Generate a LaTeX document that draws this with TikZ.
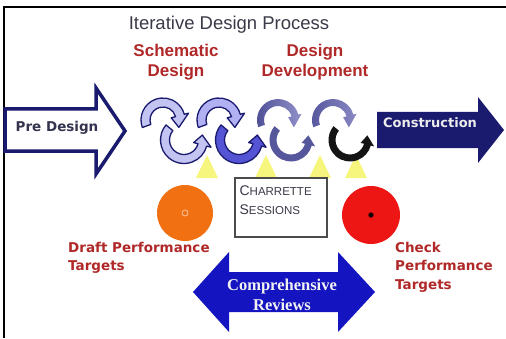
\documentclass[tikz,border=0pt]{standalone}
\usepackage{fontspec}
\setmainfont{Liberation Sans}
\newfontfamily\dejavu{DejaVu Sans}
\newfontfamily\timesb{Liberation Serif}
\usetikzlibrary{positioning}
\usetikzlibrary{calc}
\definecolor{dkblue}{HTML}{1A1A6E}
\definecolor{revblue}{HTML}{1414C0}
\definecolor{headred}{HTML}{B02828}
\definecolor{titlegray}{HTML}{3A3A48}
\definecolor{lav}{HTML}{C4C4F2}
\definecolor{midblue}{HTML}{5454D4}
\definecolor{paleyel}{HTML}{F6F67E}
\definecolor{draftorg}{HTML}{F07012}
\definecolor{checkred}{HTML}{EE1515}
\tikzset{ttl/.style={font=\fontsize{18.5}{22}\selectfont, text=titlegray, inner sep=0pt}}
\tikzset{hd/.style={font=\bfseries\fontsize{17}{20}\selectfont, text=headred, align=center, inner sep=0pt}}
\tikzset{lbl/.style={font=\dejavu\bfseries\fontsize{13.5}{18.5}\selectfont, text=headred, align=left, inner sep=0pt}}
\tikzset{tri/.style={fill=paleyel}}
\tikzset{ring/.style={draw=dkblue, line width=1.3pt, line join=round}}
\tikzset{tgt/.style={circle, inner sep=0pt}}
% thick curved arrow: centre, mid radius, half width, start angle, end angle, tip angle, style
\newcommand{\fatarc}[7]{%
  \path[#7] ($(#1)+(#4:#2+#3)$) arc[start angle=#4, end angle=#5, radius=#2+#3]
    -- ($(#1)+(#5:#2+2*#3)$) -- ($(#1)+(#6:#2)$) -- ($(#1)+(#5:#2-2*#3)$)
    -- ($(#1)+(#5:#2-#3)$) arc[start angle=#5, end angle=#4, radius=#2-#3] -- cycle;}

\begin{document}
\begin{tikzpicture}[x=1pt,y=1pt]
\useasboundingbox (0,0) rectangle (506,338);

\draw[line width=2.5pt] (4,0) -- (4,331) -- (506,331);

\node[ttl] (title) at (229,313) {Iterative Design Process};
\node[hd] (sd) at (176,276) {Schematic\\Design};
\node[hd] (dd) at (315,276) {Design\\Development};

% pre design / construction
\draw[line width=3.5pt, draw=dkblue, fill=white] (5,229) -- (96,229) -- (96,250) -- (125,207)
  -- (96,164) -- (96,187) -- (5,187) -- cycle;
\node[font=\dejavu\bfseries\fontsize{13.5}{16}\selectfont, text=titlegray!80!dkblue] (pre) at (57,210) {Pre Design};

\fill[dkblue] (377,226) -- (478,226) -- (478,241) -- (504,208) -- (478,175) -- (478,190) -- (377,190) -- cycle;
\node[font=\dejavu\bfseries\fontsize{13}{16}\selectfont, text=gray!15] (con) at (430,215) {Construction};

% sessions
\foreach \x in {207,266,320,356}
  \fill[tri] (\x-11,160) -- (\x,183) -- (\x+11,160) -- cycle;

% cycles
\fatarc{163,218}{17.5}{4.5}{200}{15}{-25}{ring, fill=lav}
\fatarc{184,198}{19}{4.5}{140}{345}{375}{ring, fill=lav}
\fatarc{219,218}{17.5}{4.5}{200}{15}{-25}{ring, fill=lav!90!blue}
\fatarc{239,198}{19}{4.5}{140}{345}{375}{ring, fill=midblue}
\fatarc{278,218}{17.5}{3.5}{200}{15}{-25}{left color=dkblue!70!lav, right color=lav!70!dkblue}
\fatarc{291,198}{18}{3.5}{140}{345}{375}{fill=dkblue!65!lav}
\fatarc{333,218}{17.5}{3.5}{200}{15}{-25}{left color=dkblue!65!lav, right color=lav!65!dkblue}
\fatarc{350,198}{18}{3.5}{140}{345}{375}{fill=black!92}

\node[draw=black!70, line width=1.2pt, fill=white, minimum width=92, minimum height=59] (box) at (281,130.5) {};
\node[font=\fontsize{11.5}{19}\selectfont, text=titlegray, align=left, inner sep=0pt,
  below right=8 and 5 of box.north west, anchor=north west] (ch)
  {{\fontsize{14}{19}\selectfont C}HARRETTE\\{\fontsize{14}{19}\selectfont S}ESSIONS};

% targets
\node[tgt, fill=draftorg, minimum size=56] (draft) at (185,125) {};
\node[tgt, draw=draftorg!40!white, line width=0.8pt, minimum size=6] (dc) at (draft) {};
\node[tgt, fill=checkred, minimum size=58] (check) at (371,123) {};
\node[tgt, fill=black, draw=checkred!50!black, line width=0.8pt, minimum size=5] (cc) at (check) {};

\node[lbl, anchor=north west] (dl) at (68,96) {Draft Performance\\Targets};
\node[lbl, anchor=north west] (cl) at (395,96) {Check\\Performance\\Targets};

% reviews
\fill[revblue] (193,46) -- (229,86) -- (229,66) -- (338,66) -- (338,86) -- (375,46)
  -- (338,6) -- (338,26) -- (229,26) -- (229,6) -- cycle;
\node[font=\timesb\bfseries\fontsize{16.5}{20}\selectfont, text=white!90!gray, align=center] (rev) at (282,43) {Comprehensive\\Reviews};

\end{tikzpicture}
\end{document}
